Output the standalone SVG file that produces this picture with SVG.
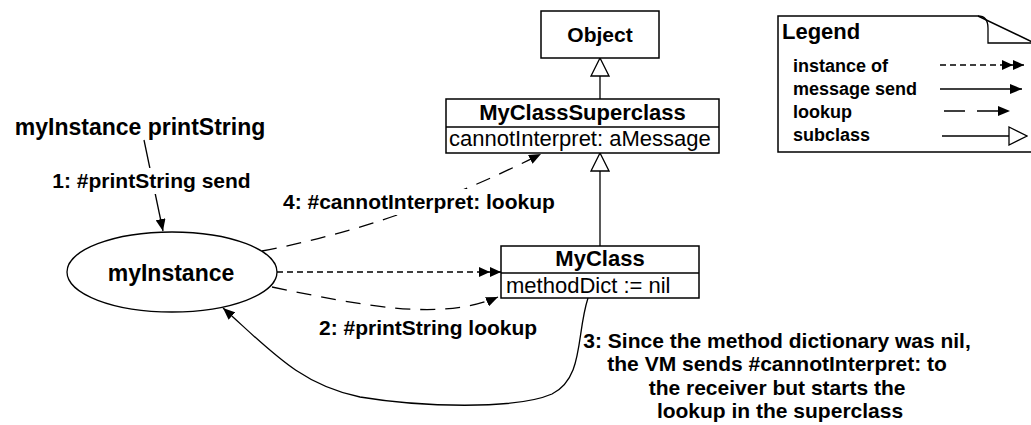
<svg xmlns="http://www.w3.org/2000/svg" width="1031" height="425" viewBox="0 0 1031 425">
<defs>
<style>
text{font-family:"Liberation Sans",Arial,Helvetica,sans-serif;fill:#000}
.b{font-weight:bold}
.t23{font-size:23px}.t22{font-size:22px}.t21{font-size:21px}.t18{font-size:18px}
.box{fill:#fff;stroke:#000;stroke-width:1.5}
.ln{fill:none;stroke:#000;stroke-width:1.3}
.dot{stroke-dasharray:6 4}
.dash{stroke-dasharray:15 10}
.lbg{fill:#fff;stroke:none}
</style>
<marker id="arrow" viewBox="0 0 12 10" refX="12" refY="5" markerWidth="12" markerHeight="10" markerUnits="userSpaceOnUse" orient="auto">
<path d="M0,0 L12,5 L0,10 z" fill="#000"/>
</marker>
<marker id="dbl" viewBox="0 0 22 10" refX="22" refY="5" markerWidth="22" markerHeight="10" markerUnits="userSpaceOnUse" orient="auto">
<path d="M0,0 L11,5 L0,10 z M11,0 L22,5 L11,10 z" fill="#000"/>
</marker>
<marker id="tri" viewBox="-1 -1 20 20" refX="18" refY="9" markerWidth="20" markerHeight="20" markerUnits="userSpaceOnUse" orient="auto">
<path d="M0,0 L18,9 L0,18 z" fill="#fff" stroke="#000" stroke-width="1.3"/>
</marker>
</defs>
<rect width="1031" height="425" fill="#fff"/>

<g id="connectors">
<line class="ln" x1="600" y1="99" x2="600" y2="58" marker-end="url(#tri)"/>
<line class="ln" x1="600" y1="246" x2="600" y2="153" marker-end="url(#tri)"/>
<line class="ln" x1="144" y1="140" x2="163" y2="231" marker-end="url(#arrow)"/>
<line class="ln dot" x1="277" y1="272" x2="501" y2="272" marker-end="url(#dbl)"/>
<path class="ln dash" d="M272,287 C360,305 440,322 498,297" marker-end="url(#arrow)"/>
<path class="ln dash" d="M262,251 Q400,225 541,154" marker-end="url(#arrow)"/>
<path class="ln" d="M588,298 C576,335 584,378 552,394 C515,410 420,407 360,397 C300,385 270,350 223,308" marker-end="url(#arrow)"/>
</g>

<g id="object">
<rect class="box" x="541" y="11" width="118" height="47"/>
<text class="b t21" x="600" y="42" text-anchor="middle">Object</text>
</g>

<g id="myclasssuperclass">
<rect class="box" x="446" y="99" width="273" height="54"/>
<line class="ln" x1="446" y1="127" x2="719" y2="127"/>
<text class="b t22" x="582.5" y="120" text-anchor="middle">MyClassSuperclass</text>
<text class="t22" x="449" y="146">cannotInterpret: aMessage</text>
</g>

<g id="myclass">
<rect class="box" x="501" y="246" width="198" height="52"/>
<line class="ln" x1="501" y1="273" x2="699" y2="273"/>
<text class="b t22" x="600" y="266" text-anchor="middle">MyClass</text>
<text class="t22" x="506" y="293">methodDict := nil</text>
</g>

<g id="myinstance">
<ellipse class="box" cx="172" cy="272" rx="105" ry="40" style="stroke-width:1.3"/>
<text class="b t23" x="171" y="281" text-anchor="middle">myInstance</text>
</g>

<g id="expression">
<text class="b t23" x="140" y="135" text-anchor="middle">myInstance printString</text>
</g>

<g id="labels">
<rect class="lbg" x="50" y="168" width="204" height="26"/>
<text class="b t21" x="151.5" y="188" text-anchor="middle">1: #printString send</text>
<rect class="lbg" x="280" y="189" width="278" height="26"/>
<text class="b t21" x="283" y="209">4: #cannotInterpret: lookup</text>
<text class="b t21" x="319" y="335">2: #printString lookup</text>
</g>

<g id="note3">
<text class="b t21" text-anchor="middle">
<tspan x="780" y="348">3: Since the method dictionary was nil,</tspan>
<tspan x="780" y="371">the VM sends #cannotInterpret: to</tspan>
<tspan x="780" y="395">the receiver but starts the</tspan>
<tspan x="780" y="418">lookup in the superclass</tspan>
</text>
</g>

<g id="legend">
<path d="M778,16 H978 L1045,48 V152 H778 Z" fill="#fff" stroke="#000" stroke-width="1.5"/>
<path d="M978,16 C985,16 988,21 988,28 V43 H1045" fill="none" stroke="#000" stroke-width="1.3"/>
<text class="b t22" x="782" y="39">Legend</text>
<text class="b t18" x="793" y="72">instance of</text>
<text class="b t18" x="793" y="95">message send</text>
<text class="b t18" x="793" y="118">lookup</text>
<text class="b t18" x="793" y="141">subclass</text>
<line class="ln dot" x1="940" y1="65" x2="1024" y2="65" marker-end="url(#dbl)"/>
<line class="ln" x1="940" y1="89" x2="1022" y2="89" marker-end="url(#arrow)"/>
<line class="ln" x1="944" y1="111" x2="1010" y2="111" style="stroke-dasharray:21 12" marker-end="url(#arrow)"/>
<line class="ln" x1="942" y1="136" x2="1027" y2="136" marker-end="url(#tri)"/>
</g>
</svg>
